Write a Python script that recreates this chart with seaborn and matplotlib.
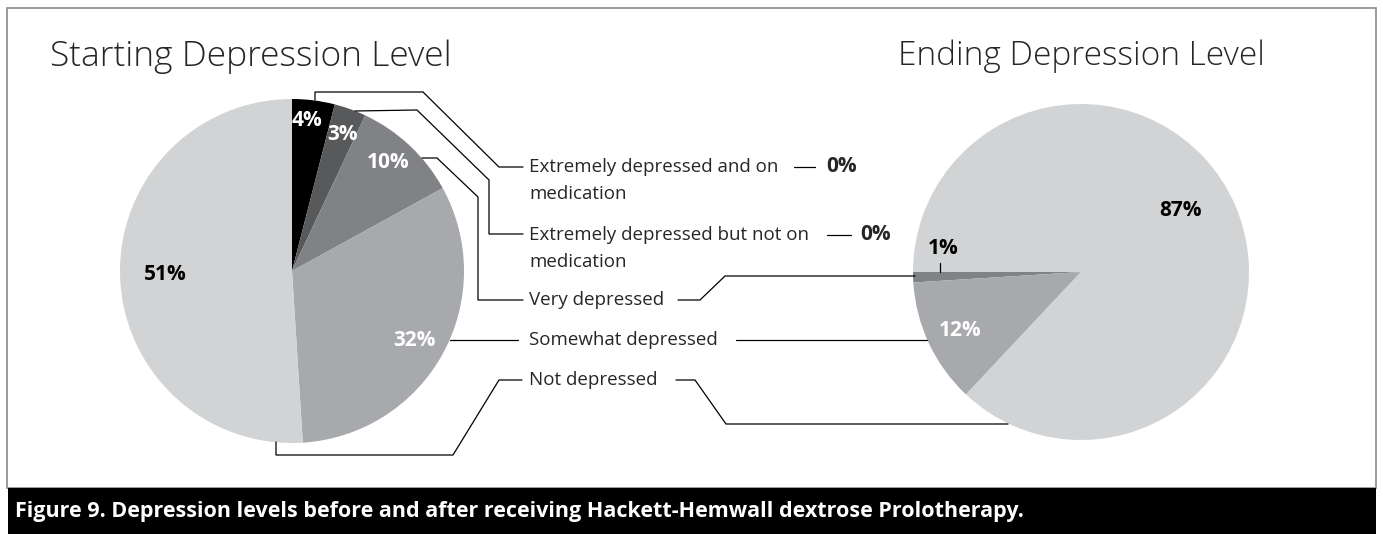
import seaborn as sns
import matplotlib.pyplot as plt
from matplotlib.patches import Rectangle

# data
categories = ["Extremely depressed and on\nmedication",
              "Extremely depressed but not on\nmedication",
              "Very depressed",
              "Somewhat depressed",
              "Not depressed"]
start_pct = [4, 3, 10, 32, 51]
end_pct = [0, 0, 1, 12, 87]
grays = ["#000000", "#58595b", "#808285", "#a7a9ac", "#d1d3d4"]

W, H = 1383, 534

sns.set_theme(style="white")
plt.rcParams['font.family'] = ['Open Sans', 'DejaVu Sans']


def Y(y):
    # pixel row (top-down) -> data y (bottom-up)
    return H - y


fig = plt.figure(figsize=(W / 100, H / 100), dpi=100)
ax = fig.add_axes([0, 0, 1, 1])

# panel border and caption bar
ax.add_patch(Rectangle((7, Y(488)), 1369, 480, fill=False, ec="#8a8a8a", lw=1.2))
ax.add_patch(Rectangle((8, 0), 1368, Y(488), fc="black", ec="none"))
ax.text(15, Y(511), "Figure 9. Depression levels before and after receiving Hackett-Hemwall dextrose Prolotherapy.",
        color="white", fontsize=15.5, fontweight="bold", va="center", ha="left")

# pies
ax.pie(start_pct, colors=grays, startangle=90, counterclock=False,
       center=(292, Y(271)), radius=172, wedgeprops=dict(linewidth=0))
ax.pie(end_pct, colors=grays, startangle=180, counterclock=True,
       center=(1081, Y(272)), radius=168, wedgeprops=dict(linewidth=0))

ax.set_xlim(0, W)
ax.set_ylim(0, H)
ax.set_aspect("auto")
ax.axis("off")

# titles
ax.text(50, Y(57), "Starting Depression Level", fontsize=25.5, fontweight="light", va="center", ha="left")
ax.text(1265, Y(56), "Ending Depression Level", fontsize=24, fontweight="light", va="center", ha="right")

pct_size = 15

# percentage labels
left_pos = [(307, 120), (343, 134), (388, 163), (414, 340), (165, 275)]
left_col = ["white", "white", "white", "white", "black"]
for v, (x, y), c in zip(start_pct, left_pos, left_col):
    ax.text(x, Y(y), f"{v}%", color=c, fontsize=pct_size, fontweight="bold", ha="center", va="center")

right_pos = {2: (943, 249), 3: (960, 331), 4: (1180, 210)}
right_col = {2: "black", 3: "white", 4: "black"}
for i, v in enumerate(end_pct):
    if i in right_pos:
        x, y = right_pos[i]
        ax.text(x, Y(y), f"{v}%", color=right_col[i], fontsize=pct_size, fontweight="bold", ha="center", va="center")

# category labels in the middle
label_y = [167, 235, 300, 340, 380]
for name, y in zip(categories, label_y):
    for k, line in enumerate(name.split("\n")):
        ax.text(529, Y(y + 27 * k), line, fontsize=13.5, ha="left", va="center")

# zero labels for the ending pie
zero_dash = [(794, 815, 167, 842), (827, 851, 235, 876)]
for (x0, x1, y, xt), v in zip(zero_dash, end_pct[:2]):
    ax.plot([x0, x1], [Y(y), Y(y)], color="black", lw=0.9)
    ax.text(xt, Y(y), f"{v}%", fontsize=pct_size, fontweight="bold", ha="center", va="center")

# leader lines (pixel coords)
leaders = [
    [(315, 100), (315, 92), (423, 92), (499, 167), (523, 167)],
    [(355, 111), (417, 110), (489, 180), (489, 234), (523, 234)],
    [(422, 158), (437, 158), (478, 197), (478, 300), (523, 300)],
    [(450, 340), (518, 340)],
    [(522, 380), (499, 380), (453, 455), (276, 455), (276, 442)],
    [(678, 300), (700, 300), (725, 276), (915, 276)],
    [(736, 340), (927, 340)],
    [(676, 380), (695, 380), (726, 424), (1008, 424)],
    [(940, 263), (940, 272)],
]
for pts in leaders:
    xs = [p[0] for p in pts]
    ys = [Y(p[1]) for p in pts]
    ax.plot(xs, ys, color="black", lw=0.9, solid_joinstyle="miter")

fig.savefig("out.png", dpi=100)
